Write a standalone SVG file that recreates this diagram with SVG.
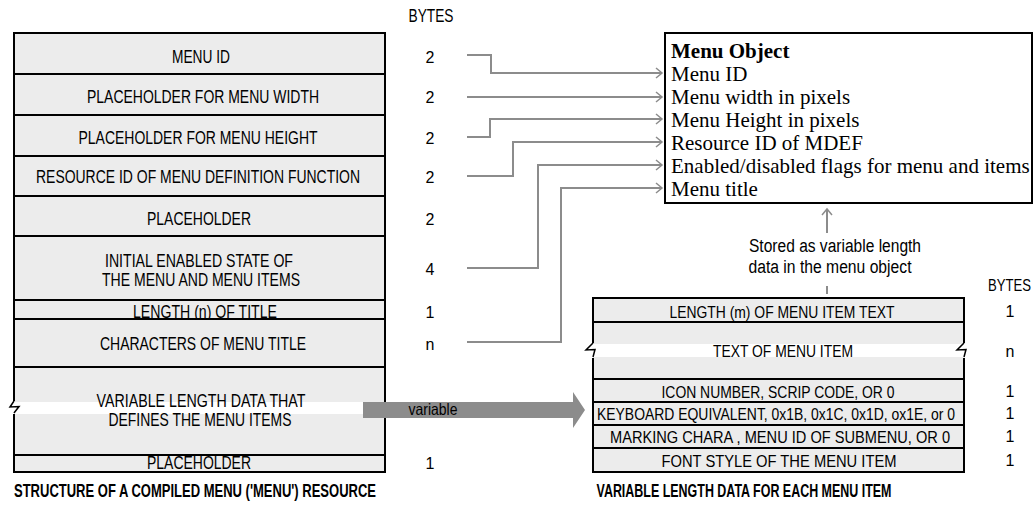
<svg xmlns="http://www.w3.org/2000/svg" width="1034" height="515" viewBox="0 0 1034 515">
<defs>
<style>
.cell{fill:#ececec;stroke:#000;stroke-width:2}
.nf{fill:#ececec;stroke:none}
.band{fill:#fff;stroke:none}
.ln{fill:none;stroke:#000;stroke-width:2}
.t{font-family:"Liberation Sans Narrow","Liberation Sans",Arial,sans-serif;font-size:18px;fill:#000;text-anchor:middle}
.s{font-size:16.5px}
.n{font-size:16px}
.b{font-weight:bold}
.ser{font-family:"Liberation Serif","Times New Roman",serif;font-size:21px;fill:#000}
.con{fill:none;stroke:#8c8c8c;stroke-width:2;marker-end:url(#chev)}
.tick{fill:none;stroke:#8c8c8c;stroke-width:2}
</style>
<marker id="chev" markerUnits="userSpaceOnUse" markerWidth="10" markerHeight="12" refX="7" refY="6" orient="auto" overflow="visible">
<path d="M1,1 L7,6 L1,11" fill="none" stroke="#8c8c8c" stroke-width="1.5"/>
</marker>
</defs>
<rect width="1034" height="515" fill="#fff"/>

<text class="t" x="431" y="22" textLength="45" lengthAdjust="spacingAndGlyphs">BYTES</text>

<g id="menu-resource">
<g id="row-menu-id"><rect class="cell" x="14" y="33" width="371" height="41"/><text class="t" x="201" y="63" textLength="58" lengthAdjust="spacingAndGlyphs">MENU ID</text><text class="t n" x="430" y="63">2</text></g>
<g id="row-width"><rect class="cell" x="14" y="74" width="371" height="41"/><text class="t" x="203" y="103" textLength="232" lengthAdjust="spacingAndGlyphs">PLACEHOLDER FOR MENU WIDTH</text><text class="t n" x="430" y="103">2</text></g>
<g id="row-height"><rect class="cell" x="14" y="115" width="371" height="41"/><text class="t" x="198" y="144" textLength="239" lengthAdjust="spacingAndGlyphs">PLACEHOLDER FOR MENU HEIGHT</text><text class="t n" x="430" y="144">2</text></g>
<g id="row-mdef"><rect class="cell" x="14" y="156" width="371" height="40"/><text class="t" x="198" y="183" textLength="324" lengthAdjust="spacingAndGlyphs">RESOURCE ID OF MENU DEFINITION FUNCTION</text><text class="t n" x="430" y="183">2</text></g>
<g id="row-placeholder1"><rect class="cell" x="14" y="196" width="371" height="40"/><text class="t" x="199" y="225" textLength="104" lengthAdjust="spacingAndGlyphs">PLACEHOLDER</text><text class="t n" x="430" y="225">2</text></g>
<g id="row-enabled"><rect class="cell" x="14" y="236" width="371" height="64"/><text class="t" x="199" y="267" textLength="188" lengthAdjust="spacingAndGlyphs">INITIAL ENABLED STATE OF</text><text class="t" x="201" y="286" textLength="198" lengthAdjust="spacingAndGlyphs">THE MENU AND MENU ITEMS</text><text class="t n" x="430" y="275">4</text></g>
<g id="row-title-length"><rect class="cell" x="14" y="300" width="371" height="19"/><text class="t" x="205" y="318" textLength="144" lengthAdjust="spacingAndGlyphs">LENGTH (n) OF TITLE</text><text class="t n" x="430" y="318">1</text></g>
<g id="row-title-chars"><rect class="cell" x="14" y="319" width="371" height="48"/><text class="t" x="203" y="350" textLength="206" lengthAdjust="spacingAndGlyphs">CHARACTERS OF MENU TITLE</text><text class="t n" x="430" y="350">n</text></g>
<g id="row-variable">
<rect class="nf" x="14" y="367" width="371" height="88"/>
<rect class="band" x="14" y="402" width="371" height="12"/>
<path class="ln" d="M14,367 H385 V455 H14 V414 M14,401 V367"/>
<path d="M14,401 L10,407 L19,406.5 L14,413" fill="none" stroke="#000" stroke-width="1.5"/>
<text class="t" x="201" y="407" textLength="209" lengthAdjust="spacingAndGlyphs">VARIABLE LENGTH DATA THAT</text>
<text class="t" x="200" y="426" textLength="183" lengthAdjust="spacingAndGlyphs">DEFINES THE MENU ITEMS</text>
</g>
<g id="row-placeholder2"><rect class="cell" x="14" y="455" width="371" height="17"/><text class="t" x="199" y="469" textLength="104" lengthAdjust="spacingAndGlyphs">PLACEHOLDER</text><text class="t n" x="430" y="469">1</text></g>
</g>

<g id="variable-arrow">
<path d="M363,402 H573 V392 L585,410 L573,428 V418 H363 Z" fill="#8c8c8c"/>
<text class="t s" x="433" y="415" textLength="49" lengthAdjust="spacingAndGlyphs">variable</text>
</g>

<g id="menu-object">
<rect x="665" y="33" width="367" height="170" fill="#fff" stroke="#000" stroke-width="2"/>
<text class="ser b" x="671" y="58">Menu Object</text>
<text class="ser" x="671" y="81">Menu ID</text>
<text class="ser" x="671" y="104">Menu width in pixels</text>
<text class="ser" x="671" y="127">Menu Height in pixels</text>
<text class="ser" x="671" y="150">Resource ID of MDEF</text>
<text class="ser" x="671" y="173">Enabled/disabled flags for menu and items</text>
<text class="ser" x="671" y="196">Menu title</text>
</g>

<g id="stored-note">
<text class="t" x="835" y="252" textLength="172" lengthAdjust="spacingAndGlyphs">Stored as variable length</text>
<text class="t" x="830" y="273" textLength="163" lengthAdjust="spacingAndGlyphs">data in the menu object</text>
</g>

<g id="connectors">
<path class="con" d="M467,55 H491 V73 H662"/>
<path class="con" d="M467,97 H662"/>
<path class="con" d="M467,137 H490 V119 H662"/>
<path class="con" d="M467,176 H513 V142 H662"/>
<path class="con" d="M467,268 H538 V165 H662"/>
<path class="con" d="M467,342 H561 V188 H662"/>
<path class="con" d="M827,233 V209"/>
<path class="tick" d="M827,286 V294"/>
</g>

<text class="t s" x="1031" y="291" style="text-anchor:end" textLength="43" lengthAdjust="spacingAndGlyphs">BYTES</text>

<g id="menu-item">
<g id="item-length"><rect class="cell" x="593" y="298" width="371" height="24"/><text class="t s" x="782" y="318" textLength="225" lengthAdjust="spacingAndGlyphs">LENGTH (m) OF MENU ITEM TEXT</text><text class="t n" x="1010" y="317">1</text></g>
<g id="item-text">
<rect class="nf" x="593" y="322" width="371" height="57"/>
<rect class="band" x="593" y="344" width="371" height="13"/>
<path class="ln" d="M593,343 V322 H964 V343 M964,358 V379 H593 V358"/>
<path d="M593,343 L586,350 L595,349.5 L593,357" fill="none" stroke="#000" stroke-width="1.5"/>
<path d="M964,343 L957,350 L966,349.5 L964,357" fill="none" stroke="#000" stroke-width="1.5"/>
<text class="t s" x="783" y="357" textLength="140" lengthAdjust="spacingAndGlyphs">TEXT OF MENU ITEM</text>
<text class="t n" x="1010" y="357">n</text>
</g>
<g id="item-icon"><rect class="cell" x="593" y="379" width="371" height="23"/><text class="t s" x="778" y="398" textLength="233" lengthAdjust="spacingAndGlyphs">ICON NUMBER, SCRIP CODE, OR 0</text><text class="t n" x="1010" y="397">1</text></g>
<g id="item-key"><rect class="cell" x="593" y="402" width="371" height="23"/><text class="t s" x="776" y="420" textLength="358" lengthAdjust="spacingAndGlyphs">KEYBOARD EQUIVALENT, 0x1B, 0x1C, 0x1D, ox1E, or 0</text><text class="t n" x="1010" y="419">1</text></g>
<g id="item-mark"><rect class="cell" x="593" y="425" width="371" height="23"/><text class="t s" x="780" y="443" textLength="340" lengthAdjust="spacingAndGlyphs">MARKING CHARA , MENU ID OF SUBMENU, OR 0</text><text class="t n" x="1010" y="442">1</text></g>
<g id="item-style"><rect class="cell" x="593" y="448" width="371" height="24"/><text class="t s" x="779" y="467" textLength="235" lengthAdjust="spacingAndGlyphs">FONT STYLE OF THE MENU ITEM</text><text class="t n" x="1010" y="466">1</text></g>
</g>

<g id="captions">
<text class="t b" x="195" y="497" textLength="362" lengthAdjust="spacingAndGlyphs">STRUCTURE OF A COMPILED MENU ('MENU') RESOURCE</text>
<text class="t b" x="744" y="497" textLength="295" lengthAdjust="spacingAndGlyphs">VARIABLE LENGTH DATA FOR EACH MENU ITEM</text>
</g>
</svg>
